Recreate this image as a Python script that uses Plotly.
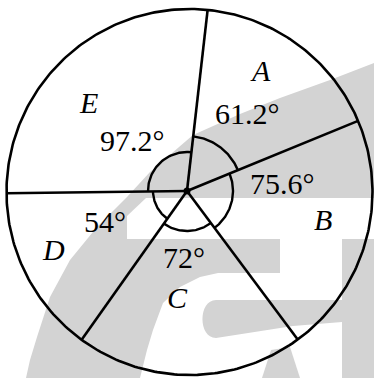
import numpy as np
import plotly.graph_objects as go

# ---- data ----
categories = ["A", "B", "C", "D", "E"]
angles = [61.2, 75.6, 72, 54, 97.2]          # sector angles in degrees
angle_labels = ["61.2°", "75.6°", "72°", "54°", "97.2°"]

# ---- layout constants (pixels) ----
W, H = 374, 378
HUB = np.array([187.0, 191.0])
CC = np.array([189.5, 192.0])
R = 183.0
START = 6.5                       # compass direction of first radius
MARK_R = [55, 46, 40, 34, 39]     # radii of the angle marks
LETTER_POS = [(260, 70), (323, 219), (177, 297), (53, 249), (88, 102)]
VALUE_POS = [(247, 113), (282, 183), (184, 257), (105, 221), (132, 140)]
LINE = "black"
GRAY = "#d3d3d3"
FONT = "Liberation Serif"


def direction(theta_deg):
    t = np.radians(theta_deg)
    return np.array([np.sin(t), -np.cos(t)])


def ray_to_circle(theta_deg):
    d = direction(theta_deg)
    f = HUB - CC
    b = f @ d
    t = -b + np.sqrt(b * b - f @ f + R * R)
    return HUB + t * d


bounds = START + np.concatenate([[0], np.cumsum(angles)])

fig = go.Figure()

# outer circle
phi = np.linspace(0, 2 * np.pi, 400)
fig.add_trace(go.Scatter(x=CC[0] + R * np.cos(phi), y=CC[1] + R * np.sin(phi),
                         mode="lines", line=dict(color=LINE, width=2.6),
                         hoverinfo="skip", showlegend=False))

# radii
for b in bounds[:-1]:
    p = ray_to_circle(b)
    fig.add_trace(go.Scatter(x=[HUB[0], p[0]], y=[HUB[1], p[1]], mode="lines",
                             line=dict(color=LINE, width=2.6),
                             hoverinfo="skip", showlegend=False))

# angle marks
for i in range(len(angles)):
    th = np.linspace(bounds[i], bounds[i + 1], 60)
    pts = np.array([HUB + MARK_R[i] * direction(t) for t in th])
    fig.add_trace(go.Scatter(x=pts[:, 0], y=pts[:, 1], mode="lines",
                             line=dict(color=LINE, width=2.4),
                             hoverinfo="skip", showlegend=False))

# hub dot
fig.add_trace(go.Scatter(x=[HUB[0]], y=[HUB[1]], mode="markers",
                         marker=dict(color=LINE, size=7),
                         hoverinfo="skip", showlegend=False))

# labels
ann = []
for i, c in enumerate(categories):
    ann.append(dict(x=LETTER_POS[i][0], y=LETTER_POS[i][1], xref="x", yref="y",
                    text=f"<i>{c}</i>", showarrow=False,
                    font=dict(family=FONT, size=30, color="black")))
    ann.append(dict(x=VALUE_POS[i][0], y=VALUE_POS[i][1], xref="x", yref="y",
                    text=angle_labels[i], showarrow=False,
                    font=dict(family=FONT, size=30, color="black")))

# faint watermark behind the chart
wm = dict(type="path", xref="x", yref="y", layer="below", line=dict(width=0))
shapes = [
    dict(wm, fillcolor=GRAY, path="M 26,378 L 30,360 L 37,337 L 50,297 L 70,260 L 97,227 "
         "L 127,197 L 150,172 L 193,135 L 240,114 L 280,98 L 330,80 L 374,63 L 374,378 Z"),
    dict(wm, fillcolor="white", path="M 127,239 L 127,216 L 146,198 L 374,198 L 374,239 Z"),
    dict(wm, fillcolor="white", path="M 140,378 L 147,350 L 153,330 L 163,303 L 180,287 "
         "L 200,277 L 218,273 L 280,273 L 280,239 L 342,239 L 342,378 Z"),
    dict(wm, fillcolor=GRAY, path="M 216,300 L 342,300 L 342,322 L 293,326 L 216,338 "
         "C 198,338 198,300 216,300 Z"),
    dict(wm, fillcolor=GRAY, path="M 262,378 L 271,350 L 290,347 L 300,378 Z"),
]

fig.update_layout(
    width=W, height=H, margin=dict(l=0, r=0, t=0, b=0),
    paper_bgcolor="white", plot_bgcolor="rgba(0,0,0,0)",
    xaxis=dict(range=[0, W], visible=False, fixedrange=True),
    yaxis=dict(range=[H, 0], visible=False, fixedrange=True),
    annotations=ann, shapes=shapes, showlegend=False,
)

fig.write_html("out.html", config={"displayModeBar": False},
               post_script="document.body.style.margin='0';"
                           "document.body.style.overflow='hidden';")
